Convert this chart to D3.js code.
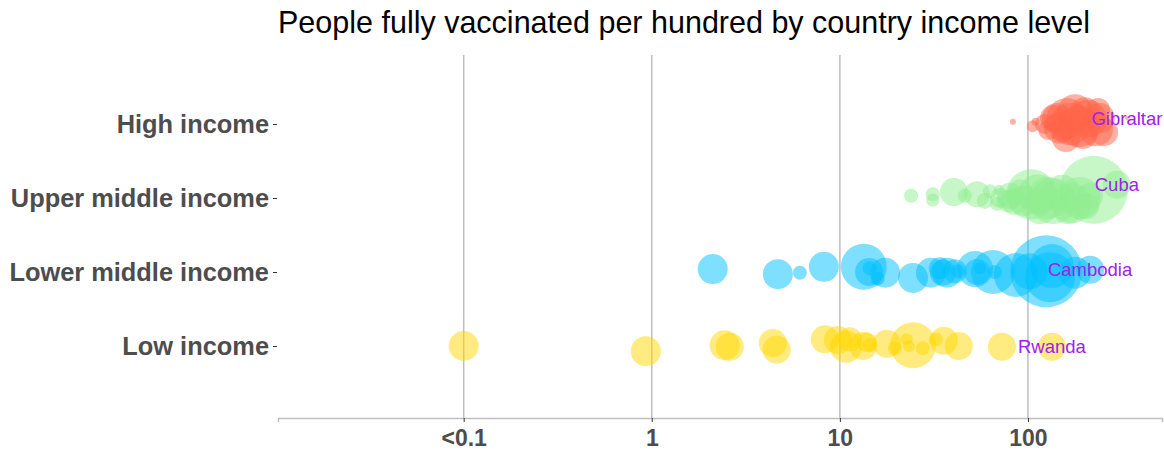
<!DOCTYPE html>
<html>
<head>
<meta charset="utf-8">
<script src="https://cdn.jsdelivr.net/npm/d3@7"></script>
<style>
  body { margin: 0; background: #fff; }
  svg { font-family: "Liberation Sans", Arial, sans-serif; }
</style>
</head>
<body>
<div id="chart"></div>
<script>
// categories, bottom to top
const groups = ["Low income", "Lower middle income", "Upper middle income", "High income"];
const groupColors = ["#FFD700", "#00BFFF", "#90EE90", "#FF6347"];
const tickValues = [0.1, 1, 10, 100];
const tickLabels = ["<0.1", "1", "10", "100"];

// people fully vaccinated per hundred, size (millions), vertical jitter (fraction of a row)
// last entry of every group is the labelled country
const lowVals = [0.1, 0.93, 2.44, 2.6, 4.4, 4.62, 8.32, 9.76, 10.8, 11.3, 13.3, 13.9, 14.4, 17.8, 19.6, 24.5, 22.7, 23.3, 27.6, 32.4, 35.7, 42.9, 72.7, 134];
const lowSize = [243, 243, 243, 212, 212, 212, 212, 212, 277, 156, 212, 108, 53, 212, 53, 571, 39, 39, 53, 53, 212, 212, 212, 212];
const lowJit = [0, -0.07, 0.01, -0.01, 0.04, -0.05, 0.09, 0.08, -0.01, 0.09, 0, 0.05, 0.01, 0.03, -0.03, 0.01, 0.09, 0, -0.03, 0.09, 0.07, 0, -0.01, -0.01];

const lmVals = [2.11, 4.68, 6.13, 8.22, 13.4, 14.3, 14.4, 15.9, 17.4, 24.5, 30.5, 34.0, 35.3, 37.1, 40.9, 42.4, 52.3, 53.6, 55.6, 65.2, 66.8, 86.3, 102, 125, 134, 131, 178, 214];
const lmSize = [243, 243, 53, 243, 571, 212, 53, 53, 243, 243, 243, 131, 183, 243, 156, 53, 350, 183, 39, 523, 53, 523, 350, 1400, 523, 675, 277, 212];
const lmJit = [0.04, -0.03, -0.01, 0.07, 0.07, 0, 0.05, -0.09, -0.01, -0.08, -0.01, 0.05, -0.01, -0.01, 0.01, 0.01, 0.04, 0, 0.05, 0, 0, -0.04, 0.01, 0.01, 0.08, -0.07, -0.01, 0.03];

const umVals = [23.9, 31.2, 31.2, 40.4, 46.2, 53.6, 59.0, 62.8, 68.4, 70.1, 71, 78.3, 80.2, 84.3, 90.7, 95.2, 104, 113, 116, 128, 136, 152, 163, 171, 189, 204, 214, 224, 297];
const umSize = [53, 53, 46, 212, 53, 183, 69, 53, 53, 27, 108, 131, 183, 183, 156, 243, 675, 432, 350, 476, 571, 350, 243, 432, 476, 183, 183, 1249, 212];
const umJit = [0.03, 0.05, -0.03, 0.08, 0.03, 0.05, -0.04, 0.09, -0.08, 0.11, 0, -0.04, 0.03, -0.05, 0.09, -0.04, 0.05, 0.05, -0.11, 0, -0.04, 0.07, -0.15, -0.07, 0, -0.11, 0.03, 0.11, 0.18];

const highVals = [83.2, 106, 110, 123, 128, 136, 143, 148, 152, 159, 161, 169, 178, 187, 196, 201, 208, 230, 236, 241, 254, 336];
const highSize = [9.7, 39, 17, 108, 108, 183, 243, 277, 156, 212, 432, 476, 350, 476, 212, 243, 390, 312, 156, 243, 212, 4.3];
const highJit = [0.03, -0.03, 0.03, 0, -0.08, 0.08, 0.08, -0.05, -0.08, -0.19, 0.08, 0, 0.16, -0.03, -0.15, 0.16, 0.07, -0.07, 0.19, 0.08, -0.11, 0.08];

const labelNames = ["Rwanda", "Cambodia", "Cuba", "Gibraltar"];

const series = [
  { vals: lowVals, size: lowSize, jit: lowJit },
  { vals: lmVals, size: lmSize, jit: lmJit },
  { vals: umVals, size: umSize, jit: umJit },
  { vals: highVals, size: highSize, jit: highJit }
];

const width = 1164, height = 451;
const margin = { top: 55, right: 2, bottom: 33, left: 278 };

const x = d3.scaleLog()
  .domain([0.0103, 516])
  .range([margin.left, width - margin.right]);
const y = d3.scalePoint()
  .domain(groups)
  .range([346, 124]);
const r = d3.scaleSqrt()
  .domain([0, 1400])
  .range([0, 36]);

const svg = d3.select("#chart").append("svg")
  .attr("width", width)
  .attr("height", height);

// title
svg.append("text")
  .attr("x", margin.left)
  .attr("y", 33)
  .attr("font-size", 30.5)
  .attr("fill", "#000")
  .text("People fully vaccinated per hundred by country income level");

// vertical grid
svg.append("g")
  .selectAll("line")
  .data(tickValues)
  .join("line")
  .attr("x1", d => x(d)).attr("x2", d => x(d))
  .attr("y1", margin.top).attr("y2", height - margin.bottom)
  .attr("stroke", "#BEBEBE")
  .attr("stroke-width", 1.5);

// x axis
const xaxis = d3.axisBottom(x)
  .tickValues(tickValues)
  .tickFormat((d, i) => tickLabels[i])
  .tickSize(4)
  .tickPadding(8);
const gx = svg.append("g")
  .attr("transform", "translate(0," + (height - margin.bottom) + ")")
  .call(xaxis);
gx.select(".domain").attr("stroke", "#BEBEBE").attr("stroke-width", 1.5);
gx.selectAll(".tick line").attr("stroke", "#333");
gx.selectAll(".tick text")
  .attr("font-size", 23)
  .attr("font-weight", "bold")
  .attr("font-family", "Liberation Sans, Arial, sans-serif")
  .attr("fill", "#4D4D4D");

// y axis (ticks + labels only)
const yaxis = d3.axisLeft(y).tickSize(4).tickPadding(4);
const gy = svg.append("g")
  .attr("transform", "translate(" + (margin.left - 1) + ",0)")
  .call(yaxis);
gy.select(".domain").remove();
gy.selectAll(".tick line").attr("stroke", "#333");
gy.selectAll(".tick text")
  .attr("font-size", 25.4)
  .attr("font-weight", "bold")
  .attr("font-family", "Liberation Sans, Arial, sans-serif")
  .attr("fill", "#4D4D4D");

// bubbles
const step = y.step();
series.forEach((s, gi) => {
  const pts = s.vals.map((v, i) => ({ v, size: s.size[i], j: s.jit[i] }));
  svg.append("g")
    .selectAll("circle")
    .data(pts)
    .join("circle")
    .attr("cx", d => x(d.v))
    .attr("cy", d => y(groups[gi]) - d.j * step)
    .attr("r", d => r(d.size))
    .attr("fill", groupColors[gi])
    .attr("fill-opacity", 0.5);
});

// labels on the last point of each group
svg.append("g")
  .selectAll("text")
  .data(series)
  .join("text")
  .attr("x", d => x(d.vals[d.vals.length - 1]))
  .attr("y", (d, gi) => y(groups[gi]) - d.jit[d.jit.length - 1] * step)
  .attr("dy", "0.35em")
  .attr("text-anchor", "middle")
  .attr("font-size", 18.5)
  .attr("fill", "#A020F0")
  .text((d, gi) => labelNames[gi]);
</script>
</body>
</html>
